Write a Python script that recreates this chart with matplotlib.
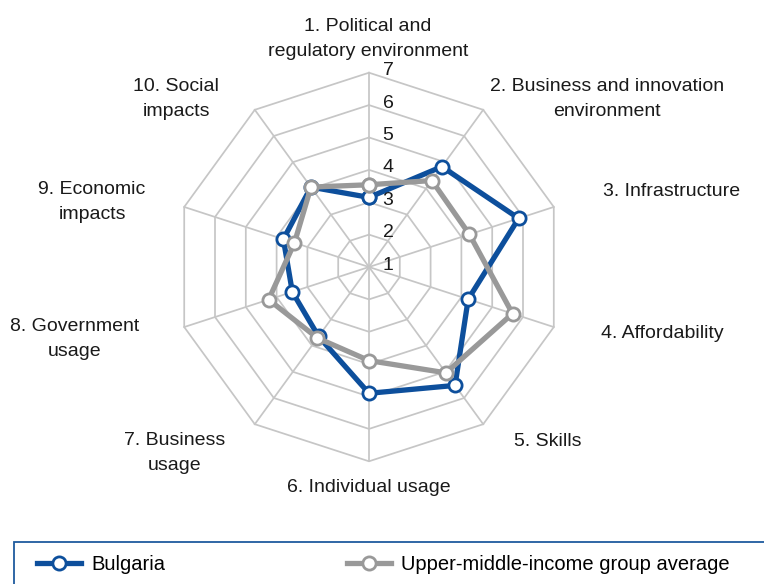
import numpy as np
import matplotlib
matplotlib.use("Agg")
import matplotlib.pyplot as plt
from matplotlib.patches import Rectangle
from matplotlib.lines import Line2D
import matplotlib.transforms as mtransforms
from matplotlib import font_manager

names = {f.name for f in font_manager.fontManager.ttflist}
FAM = ['Liberation Sans Narrow', 'Liberation Sans', 'DejaVu Sans'] if 'Liberation Sans Narrow' in names else ['Liberation Sans', 'DejaVu Sans']
plt.rcParams['font.family'] = FAM

categories = ["1. Political and\nregulatory environment",
              "2. Business and innovation\nenvironment",
              "3. Infrastructure",
              "4. Affordability",
              "5. Skills",
              "6. Individual usage",
              "7. Business\nusage",
              "8. Government\nusage",
              "9. Economic\nimpacts",
              "10. Social\nimpacts"]
bulgaria = [3.15, 4.83, 5.86, 4.22, 5.52, 4.90, 3.65, 3.49, 3.78, 4.05]
umi_avg = [3.54, 4.30, 4.26, 5.66, 5.04, 3.89, 3.71, 4.26, 3.42, 4.05]
levels = [1, 2, 3, 4, 5, 6, 7]
series_names = ["Bulgaria", "Upper-middle-income group average"]

BLUE = "#0d4f9c"
GRAY = "#999999"
GRID = "#c6c6c6"
TXT = "#1a1a1a"
FS = 14
LFS = 14.5

W, H = 764, 584
fig = plt.figure(figsize=(W / 100, H / 100), dpi=100)
cx, cy, R = 369, 267, 194.3
ax = fig.add_axes([(cx - R) / W, (H - cy - R) / H, 2 * R / W, 2 * R / H], projection='polar')
ax.set_theta_zero_location('N')
ax.set_theta_direction(-1)
ax.set_ylim(levels[0], levels[-1])
ax.grid(False)
ax.spines['polar'].set_visible(False)
ax.set_xticks([])
ax.set_yticks([])
ax.patch.set_alpha(0)

n = len(categories)
ang = np.linspace(0, 2 * np.pi, n, endpoint=False)
ang_c = np.concatenate([ang, ang[:1]])

for lv in levels[1:]:
    ax.plot(ang_c, [lv] * (n + 1), color=GRID, lw=1.25, zorder=1, clip_on=False)
for a in ang:
    ax.plot([a, a], [levels[0], levels[-1]], color=GRID, lw=1.25, zorder=1, clip_on=False)

for vals, col in [(bulgaria, BLUE), (umi_avg, GRAY)]:
    v = list(vals) + [vals[0]]
    ax.plot(ang_c, v, color=col, lw=3.8, marker='o', ms=9.5, mfc='white',
            mec=col, mew=2.0, zorder=3, clip_on=False)

off = mtransforms.offset_copy(ax.transData, fig=fig, x=19, y=2, units='dots')
for lv in levels:
    ax.text(0, lv, str(lv), transform=off, ha='center', va='center', fontsize=FS, color=TXT)

# category labels (figure pixel positions of the label centres)
label_pos = [(368, 39, 'center'), (607, 99, 'center'), (603, 192, 'left'), (601, 333, 'left'),
             (514, 441, 'left'), (369, 488, 'center'), (175, 453, 'center'), (75, 339, 'center'),
             (92, 202, 'center'), (176, 99, 'center')]
for lab, (x, y, ha) in zip(categories, label_pos):
    fig.text(x / W, 1 - y / H, lab, ha=ha, va='center', fontsize=FS, color=TXT,
             linespacing=1.55, multialignment='center')

# legend box
fig.patches.append(Rectangle((14 / W, -0.1), 1.0, 0.1 + (H - 541.5) / H, transform=fig.transFigure,
                             fill=False, ec="#1f5a9e", lw=1.3, clip_on=False))
handles = [Line2D([], [], color=BLUE, lw=3.8, marker='o', ms=9.5, mfc='white', mec=BLUE, mew=2.0),
           Line2D([], [], color=GRAY, lw=3.8, marker='o', ms=9.5, mfc='white', mec=GRAY, mew=2.0)]
fig.legend(handles, series_names, loc='center left', bbox_to_anchor=(37 / W, 1 - 565 / H),
           ncol=2, frameon=False, fontsize=LFS, handlelength=2.2, handletextpad=0.5,
           columnspacing=9.0, borderpad=0, borderaxespad=0)

fig.savefig("out.png", dpi=100)
